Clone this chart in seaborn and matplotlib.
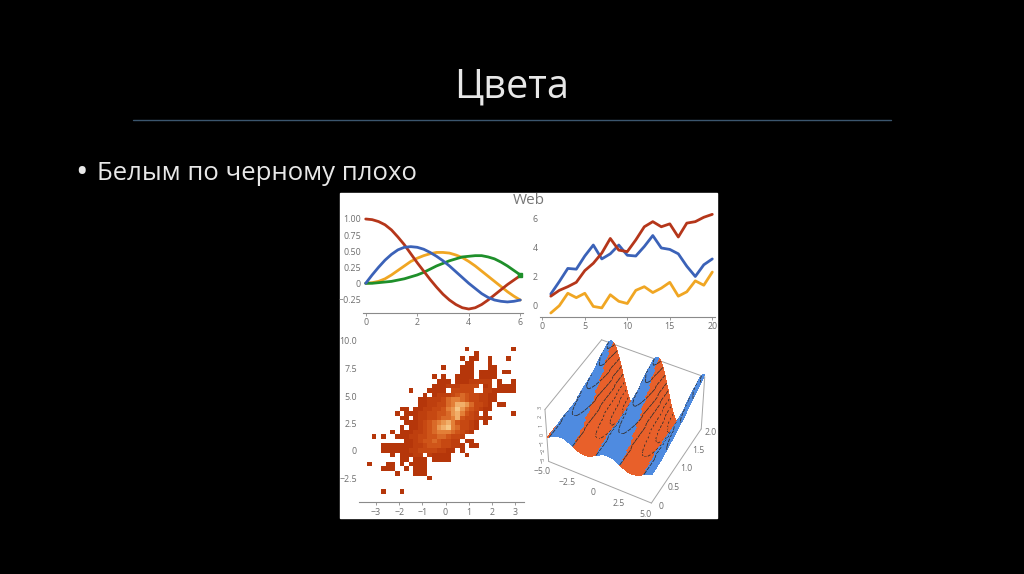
import numpy as np
import pandas as pd
import seaborn as sns
import matplotlib.pyplot as plt
from matplotlib.colors import LinearSegmentedColormap, to_rgba
from mpl_toolkits.mplot3d import proj3d

# --- Slide text ---
SLIDE_TITLE = "Цвета"
BULLET_MARK = "•"
BULLET = "Белым по черному плохо"
PANEL_TITLE = "Web"

# --- Panel 1: smooth curves ---
curve_x = [0, .25, .5, .75, 1, 1.25, 1.5, 1.75, 2, 2.25, 2.5, 2.75, 3, 3.25, 3.5, 3.75, 4, 4.25, 4.5, 4.75, 5, 5.25, 5.5, 5.75, 6]
curve_red = [1, .99, .96, .91, .83, .72, .6, .46, .32, .19, .06, -.06, -.17, -.26, -.33, -.38, -.4, -.38, -.33, -.26, -.18, -.1, -.02, .05, .12]
curve_blue = [0, .13, .25, .36, .45, .52, .56, .57, .56, .53, .48, .42, .35, .27, .18, .09, 0, -.08, -.16, -.22, -.26, -.28, -.29, -.28, -.26]
curve_orange = [0, .01, .03, .07, .13, .2, .27, .34, .39, .43, .46, .48, .48, .47, .44, .4, .34, .27, .19, .11, .03, -.05, -.13, -.2, -.26]
curve_green = [0, 0, .01, .02, .03, .05, .07, .1, .13, .17, .22, .27, .31, .35, .38, .41, .42, .43, .43, .41, .38, .33, .27, .2, .13]

# --- Panel 2: jagged series ---
step_x = list(range(1, 21))
step_red = [.65, 1.05, 1.3, 1.6, 2.4, 2.9, 3.6, 4.6, 3.8, 3.7, 4.5, 5.4, 5.75, 5.4, 5.6, 4.7, 5.65, 5.75, 6.05, 6.25]
step_blue = [.8, 1.65, 2.55, 2.5, 3.4, 4.15, 3.2, 3.55, 4.15, 3.45, 3.4, 4.05, 4.8, 3.95, 3.85, 3.55, 2.7, 2.0, 2.8, 3.2]
step_orange = [-.5, 0, .85, .55, .85, -.05, -.15, .75, .3, .15, 1.05, 1.3, .9, 1.2, 1.6, .65, .95, 1.7, 1.4, 2.3]

# --- Panel 3: density grid, one digit per cell (space = empty) ---
density_rows = [
    "                     1         1",
    "                       1        ",
    "                    1 11  1   1 ",
    "                     11   1     ",
    "                1   111   11    ",
    "                    111 1111 11 ",
    "              1 1  1111 1111    ",
    "               111 11122222 1  1",
    "              1112223333 12 1111",
    "         1   1111 33333  2211111",
    "            1 12223454332211    ",
    "           11222356654332211    ",
    "           1122335688753321 11  ",
    "       11 11223346797543211     ",
    "      1 1112233445786432 1     1",
    "       11 12233455684332211     ",
    "        1112345678643321 1      ",
    "       1 112345789653321        ",
    "     1 1112234566654321         ",
    " 1 1  111223344554332           ",
    "        112344543322 11         ",
    "   111111122344433221 11        ",
    "   1111112233332211 1           ",
    "     1 11122 21111   1          ",
    "       11 111 1111              ",
    "1   11 1 1111                   ",
    "   111  1 111                   ",
    "      1   111                   ",
    "             1                  ",
    "                                ",
    "                                ",
    "   1   1                        ",
]

# --- Panel 4: one period of the wave, its height and drift along y ---
wave = [-.34, -.17, 0, .17, .34, .5, .64, .77, .87, .94, .98, 1, .98, .94, .87, .77, .64, .5,
        .34, .17, 0, -.17, -.34, -.5, -.64, -.77, -.87, -.94, -.98, -1, -.98, -.94, -.87, -.77, -.64, -.5]
wave_height = [.5, .52, .56, .62, .7, .8, .92, 1.05, 1.2, 1.36, 1.52, 1.68, 1.85, 2.02, 2.2, 2.38, 2.56, 2.74, 2.92, 3.1, 3.3]
wave_drift = [0, 0, 0, 0, 0, 1, 1, 1, 1, 1, 1, 2, 2, 2, 2, 2, 2, 3, 3, 3, 3]
side_drift = [-2, -1, -1, 0, 0, 1, 2, 2, 3, 3, 4, 5, 5, 6, 6, 7, 8, 8, 9, 9, 10]
contour_levels = [-2.4, -1.6, -.8, 0, .8, 1.6, 2.4, 3]

RED, BLUE, ORANGE, GREEN = "#b5361a", "#3b62b8", "#f0a623", "#1e8f2a"
GRAY = "#6e6e6e"
W, H = 1024, 574

sns.set_theme(style="white")
plt.rcParams["font.family"] = ["Open Sans", "DejaVu Sans"]

fig = plt.figure(figsize=(W / 100, H / 100), dpi=100, facecolor="black")


def px_box(x0, x1, y0, y1):
    # pixel box (y from the top) -> figure fraction rect
    return [x0 / W, 1 - y1 / H, (x1 - x0) / W, (y1 - y0) / H]


def panel_axes(x0, x1, y0, y1, xref, yref):
    ax = fig.add_axes(px_box(x0, x1, y0, y1), facecolor="none")
    sx = (xref[3] - xref[1]) / (xref[2] - xref[0])
    sy = (yref[3] - yref[1]) / (yref[2] - yref[0])
    ax.set_xlim(xref[0] + (x0 - xref[1]) / sx, xref[0] + (x1 - xref[1]) / sx)
    ax.set_ylim(yref[0] + (y1 - yref[1]) / sy, yref[0] + (y0 - yref[1]) / sy)
    for side in ["top", "left", "right"]:
        ax.spines[side].set_visible(False)
    ax.spines["bottom"].set_color("#8a8a8a")
    ax.spines["bottom"].set_linewidth(0.8)
    ax.tick_params(axis="x", length=2, width=0.6, color="#8a8a8a", labelsize=6.4, labelcolor=GRAY, pad=2, bottom=True)
    ax.tick_params(axis="y", length=0, labelsize=6.4, labelcolor=GRAY, pad=1.5)
    return ax


# slide furniture
fig.text(512 / W, 1 - 87 / H, SLIDE_TITLE, color="#e8e8e8", fontsize=28.5, ha="center", va="center")
fig.add_artist(plt.Line2D([133 / W, 891 / W], [1 - 120 / H] * 2, color="#3b566e", lw=1.0))
fig.text(75 / W, 1 - 174 / H, BULLET_MARK, color="#e8e8e8", fontsize=24, ha="left", va="center")
fig.text(97 / W, 1 - 174 / H, BULLET, color="#e8e8e8", fontsize=18.5, ha="left", va="center")

# white picture behind the four panels
fig.add_artist(plt.Rectangle((340 / W, 1 - 518 / H), 377 / W, 325 / H, color="white", transform=fig.transFigure, zorder=-1))
fig.text(528.5 / W, 1 - 200 / H, PANEL_TITLE, color="#777777", fontsize=11, ha="center", va="center")

# --- top left ---
ax1 = panel_axes(363, 523, 212, 312.7, (0, 365.7, 6, 520.3), (0, 283.3, 1, 219))
curves = pd.DataFrame({"x": curve_x, "red": curve_red, "blue": curve_blue, "orange": curve_orange, "green": curve_green})
for name, col in [("orange", ORANGE), ("green", GREEN), ("red", RED), ("blue", BLUE)]:
    sns.lineplot(data=curves, x="x", y=name, color=col, lw=2, ax=ax1)
ax1.set_xlabel("")
ax1.set_ylabel("")
ax1.set_xticks([0, 2, 4, 6])
ax1.set_yticks([-.25, 0, .25, .5, .75, 1])
ax1.set_yticklabels(["−0.25", "0", "0.25", "0.50", "0.75", "1.00"])
ax1.plot(6, curve_green[-1], "s", color=GREEN, ms=2.5)

# --- top right ---
ax2 = panel_axes(540, 715, 210, 316.7, (0, 542.3, 20, 712.3), (0, 305.7, 6, 218))
steps = pd.DataFrame({"x": step_x, "red": step_red, "blue": step_blue, "orange": step_orange})
for name, col in [("orange", ORANGE), ("blue", BLUE), ("red", RED)]:
    sns.lineplot(data=steps, x="x", y=name, color=col, lw=2, ax=ax2)
ax2.set_xlabel("")
ax2.set_ylabel("")
ax2.set_xticks([0, 5, 10, 15, 20])
ax2.set_yticks([0, 2, 4, 6])

# --- bottom left ---
density = np.array([[0 if c == " " else int(c) for c in row] for row in density_rows], dtype=float)
heat_cmap = LinearSegmentedColormap.from_list("heat", ["#b5360a", "#cc4e14", "#e6863c", "#f7c684"])
ax3h = fig.add_axes(px_box(367, 515.7, 346.7, 494))
sns.heatmap(density, mask=density == 0, cmap=heat_cmap, vmin=1, vmax=9, cbar=False, ax=ax3h, xticklabels=False, yticklabels=False)
ax3h.patch.set_alpha(0)
ax3 = panel_axes(359, 524, 340, 502, (-3, 376, 3, 515), (0, 451, 10, 341))
ax3.set_xticks([-3, -2, -1, 0, 1, 2, 3])
ax3.set_xticklabels(["−3", "−2", "−1", "0", "1", "2", "3"])
ax3.set_yticks([-2.5, 0, 2.5, 5, 7.5, 10])
ax3.set_yticklabels(["−2.5", "0", "2.5", "5.0", "7.5", "10.0"])

# --- bottom right ---
ax4 = fig.add_axes(px_box(508, 738, 314, 531), projection="3d", facecolor="none", computed_zorder=False)
ax4.set_axis_off()
ax4.set_xticks([])
ax4.set_yticks([])
ax4.set_zticks([])
ax4.set_proj_type("persp", focal_length=1.0)
ax4.view_init(elev=46, azim=-62)
ax4.set_box_aspect((1.03, 1.0, 0.66), zoom=0.8)
ax4.set_xlim(-5, 5)
ax4.set_ylim(0, 2)
ax4.set_zlim(-3, 3)

n_col = 81
sx = np.linspace(-5, 5, n_col)
sy = np.linspace(0, 2, len(wave_height))
X, Y = np.meshgrid(sx, sy)
idx = np.arange(n_col)
Z = np.array([h * np.array(wave)[(idx + d) % len(wave)] for h, d in zip(wave_height, wave_drift)])

# rows go back to front so nearer parts cover the contour lines behind them
order = 10
for r in range(len(sy) - 2, -1, -1):
    side = (idx[:-1] + side_drift[r]) % len(wave) >= len(wave) / 2
    colors = np.empty((1, n_col - 1, 4))
    colors[0, side] = to_rgba("#e8602a")
    colors[0, ~side] = to_rgba("#4f8be0")
    xb, yb, zb = X[r:r + 2], Y[r:r + 2], Z[r:r + 2]
    ax4.plot_surface(xb, yb, zb, facecolors=colors, rstride=1, cstride=1, shade=False, linewidth=0, antialiased=False, zorder=order)
    levs = [v for v in contour_levels if zb.min() < v < zb.max()]
    if levs:
        ax4.contour(xb, yb, zb, levels=levs, colors="#33302e", linewidths=0.6, zorder=order + 1)
    order += 2

edge = dict(color="#a5a5a5", lw=0.7)
ax4.plot([-5, 5], [0, 0], [-3, -3], zorder=1, **edge)
ax4.plot([5, 5], [0, 2], [-3, -3], zorder=1, **edge)
ax4.plot([-5, -5], [0, 0], [-3, 3], zorder=1, **edge)
ax4.plot([-5, -5], [0, 2], [3, 3], zorder=1, **edge)
ax4.plot([-5, 5], [2, 2], [3, 3], zorder=1, **edge)
ax4.plot([5, 5], [2, 2], [-3, 3], zorder=1, **edge)

fig.canvas.draw()


def label3d(x, y, z, s, size=6.2, rotation=0):
    # put a 3D tick label on the figure at its projected position
    u, v, _ = proj3d.proj_transform(x, y, z, ax4.get_proj())
    fx, fy = ax4.transData.transform((u, v))
    fig.text(fx / W, fy / H, s, fontsize=size, color=GRAY, ha="center", va="center", rotation=rotation)


for v, lab in zip([-5, -2.5, 0, 2.5, 5], ["−5.0", "−2.5", "0", "2.5", "5.0"]):
    label3d(v, -.22, -3.3, lab)
for v, lab in zip([0, .5, 1, 1.5, 2], ["0", "0.5", "1.0", "1.5", "2.0"]):
    label3d(5.9, v, -3, lab)
for v, lab in zip([-3, -2, -1, 0, 1, 2, 3], ["−3", "−2", "−1", "0", "1", "2", "3"]):
    label3d(-5.5, 0, v, lab, size=4, rotation=90)

fig.savefig("out.png", dpi=100, facecolor="black")
